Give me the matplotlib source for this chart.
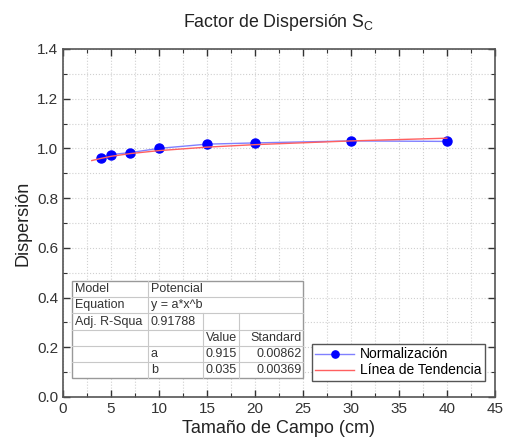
import matplotlib
matplotlib.use("Agg")
import matplotlib.pyplot as plt
from matplotlib.ticker import MultipleLocator
from matplotlib.lines import Line2D

plt.rcParams['font.family'] = ['Liberation Sans', 'DejaVu Sans']

# Data
campo = [4, 5, 7, 10, 15, 20, 30, 40]
dispersion = [0.962, 0.975, 0.983, 1.0, 1.017, 1.022, 1.030, 1.028]
trend_x = [3, 4, 5, 7, 10, 15, 20, 30, 40]
trend_y = [0.951, 0.960, 0.968, 0.979, 0.991, 1.005, 1.015, 1.030, 1.041]

table_rows = [
    ["Model", "Potencial", "", ""],
    ["Equation", "y = a*x^b", "", ""],
    ["Adj. R-Squa", "0.91788", "", ""],
    ["", "", "Value", "Standard"],
    ["", "a", "0.915", "0.00862"],
    ["", "b", "0.035", "0.00369"],
]

fig = plt.figure(figsize=(5.05, 4.45), dpi=100)
ax = fig.add_axes([0.1248, 0.108, 0.855, 0.782])

ax.plot(campo, dispersion, color='#8080ff', lw=1.0, marker='o', ms=6.5,
        mfc='blue', mec='blue', zorder=3, label='Normalización')
ax.plot(trend_x, trend_y, color='#ff6060', lw=1.0, zorder=4, label='Línea de Tendencia')

ax.set_xlim(0, 45)
ax.set_ylim(0, 1.4)
ax.xaxis.set_major_locator(MultipleLocator(5))
ax.xaxis.set_minor_locator(MultipleLocator(2.5))
ax.yaxis.set_major_locator(MultipleLocator(0.2))
ax.yaxis.set_minor_locator(MultipleLocator(0.1))
ax.yaxis.set_major_formatter(matplotlib.ticker.FormatStrFormatter('%.1f'))
ax.grid(True, which='both', color='#d0d0d0', ls=':', lw=0.8)
ax.set_axisbelow(True)
ax.tick_params(which='both', direction='in', top=True, right=True, labelsize=11,
               colors='#333333')
ax.tick_params(which='major', length=5, width=1)
ax.tick_params(which='minor', length=3, width=0.8)
for s in ax.spines.values():
    s.set_color('#555555')
    s.set_linewidth(1.2)

ax.set_xlabel('Tamaño de Campo (cm)', fontsize=13, color='#222222', labelpad=3)
ax.set_ylabel('Dispersión', fontsize=13, color='#222222', labelpad=4)
ax.set_title('Factor de Dispersión S$_\\mathregular{C}$', fontsize=12.8, color='#222222', pad=16)

leg = ax.legend(loc='lower right', bbox_to_anchor=(0.977, 0.046), fontsize=10,
                frameon=True, fancybox=False, edgecolor='#555555', framealpha=1,
                borderpad=0.25, labelspacing=0.15, handlelength=2.8, handletextpad=0.4,
                borderaxespad=0, markerscale=0.8)
leg.get_frame().set_linewidth(1.0)

# Table (axes coordinates)
left, right = 0.021, 0.556
top, bottom = 0.333, 0.054
col_x = [left, 0.197, 0.324, 0.407, right]
nrows = len(table_rows)
rh = (top - bottom) / nrows
tr = ax.transAxes
ax.add_patch(plt.Rectangle((left, bottom), right - left, top - bottom, transform=tr,
                           facecolor='white', edgecolor='#999999', lw=1.0, zorder=5))
for i in range(1, nrows):
    y = top - i * rh
    ax.add_line(Line2D([left, right], [y, y], transform=tr, color='#c8c8c8', lw=0.8, zorder=6))
ax.add_line(Line2D([col_x[1], col_x[1]], [bottom, top], transform=tr, color='#c8c8c8', lw=0.8, zorder=6))
for c in (2, 3):
    ax.add_line(Line2D([col_x[c], col_x[c]], [bottom, top - 2 * rh], transform=tr,
                       color='#c8c8c8', lw=0.8, zorder=6))
for i, row in enumerate(table_rows):
    yc = top - (i + 0.5) * rh
    for j, txt in enumerate(row):
        if not txt:
            continue
        if j >= 2:
            ax.text(col_x[j + 1] - 0.004, yc, txt, transform=tr, ha='right', va='center',
                    fontsize=9, color='#333333', zorder=7)
        else:
            ax.text(col_x[j] + 0.006, yc, txt, transform=tr, ha='left', va='center',
                    fontsize=9, color='#333333', zorder=7)

fig.savefig('out.png', dpi=100)
